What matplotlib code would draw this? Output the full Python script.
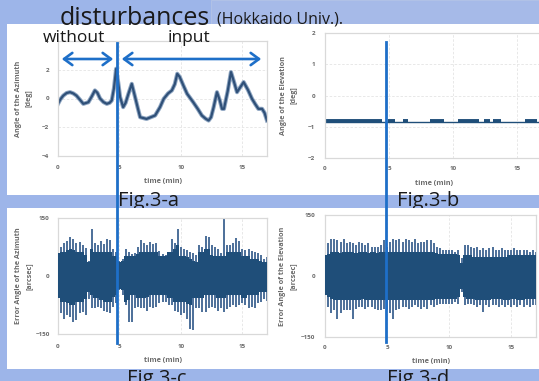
import numpy as np
import matplotlib
matplotlib.use('Agg')
import matplotlib.pyplot as plt
from matplotlib.patches import Rectangle, FancyArrowPatch
from matplotlib.lines import Line2D

plt.rcParams['font.family'] = ['Open Sans', 'DejaVu Sans']

# ---- data ----
# Fig.3-a : azimuth angle [deg] vs time [min]
AZ_T = [0.0, 0.2, 0.43, 0.7, 0.98, 1.25, 1.5, 1.8, 2.06, 2.47, 2.75, 3.0, 3.2, 3.42, 3.7, 3.97,
        4.2, 4.37, 4.55, 4.73, 4.9, 5.05, 5.3, 5.5, 5.73, 6.0, 6.27, 6.5, 6.68, 7.2, 7.9, 8.3,
        8.6, 8.95, 9.26, 9.5, 9.7, 9.9, 10.2, 10.5, 11.0, 11.35, 11.7, 12.0, 12.25, 12.45, 12.66, 12.93,
        13.15, 13.34, 13.5, 13.8, 14.07, 14.3, 14.56, 14.8, 15.1, 15.45, 15.78, 16.05, 16.3, 16.6, 16.8, 17.0]
AZ_V = [-0.37, -0.05, 0.2, 0.38, 0.44, 0.35, 0.2, -0.1, -0.37, -0.26, 0.15, 0.56, 0.4, 0.0, -0.25, -0.37,
        -0.3, -0.14, 0.7, 2.07, 1.1, 0.1, -0.6, -0.3, 0.33, 1.02, 0.1, -0.7, -1.3, -1.42, -1.18, -0.6,
        -0.02, 0.35, 0.56, 1.0, 1.72, 1.5, 0.9, 0.33, -0.26, -0.7, -1.18, -1.4, -1.53, -1.3, -0.6, 0.44,
        -0.1, -0.72, -0.72, 0.5, 1.84, 1.2, 0.44, 0.75, 1.14, 0.6, -0.02, -0.4, -0.72, -0.72, -1.0, -1.53]

# Fig.3-b : elevation angle [deg], nearly flat
ELEV_BASE = -0.86
ELEV_SEG_LEVEL = -0.83
ELEV_SEG_START = [0.0, 4.95, 6.1, 8.2, 10.4, 12.4, 13.1, 15.6]
ELEV_SEG_END = [4.43, 5.47, 6.5, 9.25, 12.0, 12.9, 13.7, 16.5]

# Fig.3-c / 3-d : error angles [arcsec], envelope per 0.25 min
ERR_T = np.arange(0, 17.01, 0.25)
AZ_ERR_HI = [110, 75, 85, 90, 100, 95, 85, 88,
             80, 72, 40, 122, 85, 80, 90, 84,
             95, 92, 70, 62, 40, 45, 70, 62,
             58, 60, 75, 92, 85, 80, 88, 82,
             85, 65, 58, 55, 60, 95, 85, 122,
             75, 70, 68, 62, 60, 55, 79, 75,
             104, 100, 80, 75, 70, 60, 148, 80,
             79, 85, 97, 90, 70, 68, 71, 65,
             62, 60, 55, 45, 50]
AZ_ERR_LO = [-84, -95, -110, -100, -105, -119, -115, -95,
             -93, -100, -60, -84, -84, -80, -84, -90,
             -93, -95, -80, -70, -35, -50, -75, -119,
             -119, -84, -80, -84, -84, -90, -80, -84,
             -80, -70, -67, -67, -76, -76, -90, -93,
             -101, -95, -110, -136, -140, -84, -84, -93,
             -93, -84, -80, -84, -90, -84, -93, -85,
             -80, -76, -80, -76, -70, -76, -84, -80,
             -84, -70, -67, -60, -65]
AZ_CORE_HI = [60, 62, 62, 66, 71, 66, 62, 62,
              62, 55, 36, 71, 62, 62, 62, 62,
              62, 62, 53, 53, 36, 40, 53, 53,
              53, 53, 58, 62, 62, 62, 62, 62,
              62, 53, 53, 53, 62, 62, 71, 79,
              53, 53, 50, 45, 40, 36, 62, 62,
              71, 71, 55, 53, 53, 53, 53, 62,
              62, 62, 62, 62, 53, 53, 53, 45,
              45, 45, 40, 36, 36]
AZ_CORE_LO = [-58, -67, -67, -70, -76, -76, -67, -67,
              -67, -60, -41, -50, -58, -58, -62, -67,
              -67, -67, -55, -50, -33, -35, -67, -62,
              -50, -50, -58, -58, -58, -55, -50, -50,
              -50, -50, -50, -50, -58, -58, -67, -67,
              -67, -67, -72, -76, -58, -58, -58, -58,
              -50, -50, -50, -50, -58, -58, -58, -50,
              -50, -50, -50, -50, -58, -58, -50, -50,
              -50, -50, -41, -41, -41]

EL_ERR_HI = [76, 80, 90, 92, 88, 84, 90, 80,
             84, 80, 76, 84, 80, 76, 80, 72,
             72, 72, 76, 88, 72, 84, 90, 88,
             92, 84, 90, 88, 84, 92, 80, 84,
             84, 88, 88, 80, 72, 68, 63, 63,
             63, 63, 60, 63, 45, 76, 76, 72,
             68, 72, 63, 68, 63, 68, 72, 63,
             63, 68, 63, 63, 63, 68, 63, 63,
             63, 63, 60, 63, 60]
EL_ERR_LO = [-68, -76, -90, -84, -105, -92, -84, -84,
             -84, -105, -80, -76, -76, -80, -76, -76,
             -80, -84, -84, -80, -84, -92, -105, -84,
             -80, -76, -76, -80, -76, -72, -76, -80,
             -76, -80, -72, -76, -72, -68, -68, -68,
             -68, -68, -64, -68, -40, -72, -68, -68,
             -72, -76, -72, -88, -72, -76, -72, -72,
             -76, -72, -76, -72, -76, -72, -76, -72,
             -76, -72, -76, -72, -72]
EL_CORE_HI = [51, 55, 59, 59, 59, 57, 59, 59,
              59, 59, 57, 59, 59, 59, 57, 59,
              59, 57, 59, 59, 59, 59, 59, 59,
              59, 59, 59, 59, 59, 59, 59, 59,
              59, 59, 59, 59, 57, 55, 55, 55,
              55, 55, 55, 51, 31, 51, 51, 51,
              47, 47, 47, 47, 47, 47, 47, 47,
              47, 47, 47, 51, 51, 51, 51, 51,
              51, 51, 51, 51, 51]
EL_CORE_LO = [-47, -52, -56, -58, -58, -58, -60, -58,
              -58, -60, -58, -58, -56, -58, -58, -58,
              -58, -58, -60, -60, -58, -60, -60, -58,
              -58, -58, -58, -60, -60, -60, -58, -58,
              -58, -58, -58, -58, -56, -56, -56, -56,
              -56, -56, -56, -52, -31, -52, -56, -56,
              -56, -58, -58, -60, -58, -58, -56, -56,
              -56, -56, -58, -58, -56, -56, -58, -58,
              -58, -56, -56, -56, -56]

# ---- colours ----
BG = '#9DB5E9'
MARK = '#1E6FC8'
DARK = '#1F4E79'
SPIKE = '#4C6F99'
TICK_C = '#6A6A6A'

W, H = 539, 381
def fx(x): return x / W
def fy(y): return 1 - y / H

fig = plt.figure(figsize=(5.39, 3.81), dpi=100)
fig.patch.set_facecolor(BG)

# slide pieces
fig.add_artist(Rectangle((fx(211), fy(24)), (W - 211) / W, 24 / H, transform=fig.transFigure,
                         facecolor='#A6BAE8', edgecolor='#B4C3E6', lw=0.6, zorder=-3))
fig.add_artist(Rectangle((fx(7), fy(195)), (W - 7) / W, 171 / H, transform=fig.transFigure,
                         facecolor='white', edgecolor='none', zorder=-3))
fig.add_artist(Rectangle((fx(7), fy(369)), (W - 7) / W, 161 / H, transform=fig.transFigure,
                         facecolor='white', edgecolor='none', zorder=-1))

fig.text(fx(60), fy(25), 'disturbances', fontsize=18, color='#1a1a1a', va='baseline')
fig.text(fx(217), fy(23), '(Hokkaido Univ.).', fontsize=11.5, color='#1a1a1a', va='baseline')
for lbl, x, y, z in [('Fig.3-a', 118, 206, -2), ('Fig.3-b', 397, 206, -2),
                     ('Fig.3-c', 127, 384, 5), ('Fig.3-d', 387, 384, 5)]:
    fig.text(fx(x), fy(y), lbl, fontsize=14.5, color='#1a1a1a', va='baseline', zorder=z)


def panel(x0, x1, y0, y1):
    return fig.add_axes([fx(x0), fy(y1), (x1 - x0) / W, (y1 - y0) / H])


def style(ax, ylim, yticks, ylabel, ylab_x, xlab_y, xpad, ypad):
    ax.set_xlim(0, 17)
    ax.set_ylim(*ylim)
    ax.set_xticks([0, 5, 10, 15])
    ax.set_yticks(yticks)
    ax.tick_params(length=0, labelsize=4.5, labelcolor=TICK_C)
    ax.tick_params(axis='x', pad=xpad)
    ax.tick_params(axis='y', pad=ypad)
    for lab in ax.get_xticklabels() + ax.get_yticklabels():
        lab.set_fontweight('bold')
    ax.grid(True, color='#E4E4E4', lw=0.6, ls=(0, (3, 2)))
    ax.set_axisbelow(True)
    for s in ax.spines.values():
        s.set_color('#D9D9D9')
        s.set_linewidth(0.9)
    ax.set_ylabel(ylabel, fontsize=5.2, fontweight='bold', color=TICK_C, linespacing=1.7)
    ax.yaxis.set_label_coords(ylab_x, 0.5)
    ax.set_xlabel('time (min)', fontsize=5.2, fontweight='bold', color=TICK_C)
    ax.xaxis.set_label_coords(0.5, xlab_y)


# Fig.3-a
ax_a = panel(58, 267, 41, 156)
ax_a.plot(AZ_T, AZ_V, color='#8FA6C2', lw=3.0, solid_joinstyle='round')
ax_a.plot(AZ_T, AZ_V, color='#2F5078', lw=1.6, solid_joinstyle='round')
style(ax_a, (-4, 4), [-4, -2, 0, 2, 4], 'Angle of the Azimuth\n[deg]', -0.124, -0.19, 6.5, 6.5)

# Fig.3-b
ax_b = panel(325, 543, 33, 158)
ax_b.hlines(ELEV_BASE, 0, 17, color=DARK, lw=1.0)
ax_b.hlines([ELEV_SEG_LEVEL] * len(ELEV_SEG_START), ELEV_SEG_START, ELEV_SEG_END, color=DARK, lw=2.8)
style(ax_b, (-2, 2), [-2, -1, 0, 1, 2], 'Angle of the Elevation\n[deg]', -0.128, -0.176, 5.5, 7)

# Fig.3-c
ax_c = panel(58, 267, 218, 334)
ax_c.vlines(ERR_T, AZ_ERR_LO, AZ_ERR_HI, color=SPIKE, lw=1.4, zorder=2)
ax_c.fill_between(ERR_T, AZ_CORE_LO, AZ_CORE_HI, step='mid', color=DARK, lw=0, zorder=3)
style(ax_c, (-150, 150), [-150, 0, 150], 'Error Angle of the Azimuth\n[arcsec]', -0.124, -0.2, 7, 6)

# Fig.3-d
ax_d = panel(325, 536, 215, 337)
ax_d.vlines(ERR_T, EL_ERR_LO, EL_ERR_HI, color=SPIKE, lw=1.4, zorder=2)
ax_d.fill_between(ERR_T, EL_CORE_LO, EL_CORE_HI, step='mid', color=DARK, lw=0, zorder=3)
style(ax_d, (-150, 150), [-150, 0, 150], 'Error Angle of the Elevation\n[arcsec]', -0.133, -0.172, 6, 7)

# annotations drawn on the slide
fig.add_artist(Line2D([fx(117), fx(117)], [fy(43), fy(343)], transform=fig.transFigure,
                      color=MARK, lw=2.0, zorder=10))
fig.add_artist(Line2D([fx(386), fx(386)], [fy(42), fy(342)], transform=fig.transFigure,
                      color=MARK, lw=2.0, zorder=10))
for xa, xb in [(59, 116), (119, 264)]:
    fig.add_artist(FancyArrowPatch((fx(xa), fy(59)), (fx(xb), fy(59)), transform=fig.transFigure,
                                   arrowstyle='<->,head_length=0.3,head_width=0.22',
                                   mutation_scale=20, color=MARK, lw=1.9, zorder=10))
fig.text(fx(43), fy(42), 'without', fontsize=12.5, color='#1a1a1a', va='baseline', zorder=11)
fig.text(fx(168), fy(42), 'input', fontsize=12.5, color='#1a1a1a', va='baseline', zorder=11)

fig.savefig('out.png', dpi=100, facecolor=fig.get_facecolor())
